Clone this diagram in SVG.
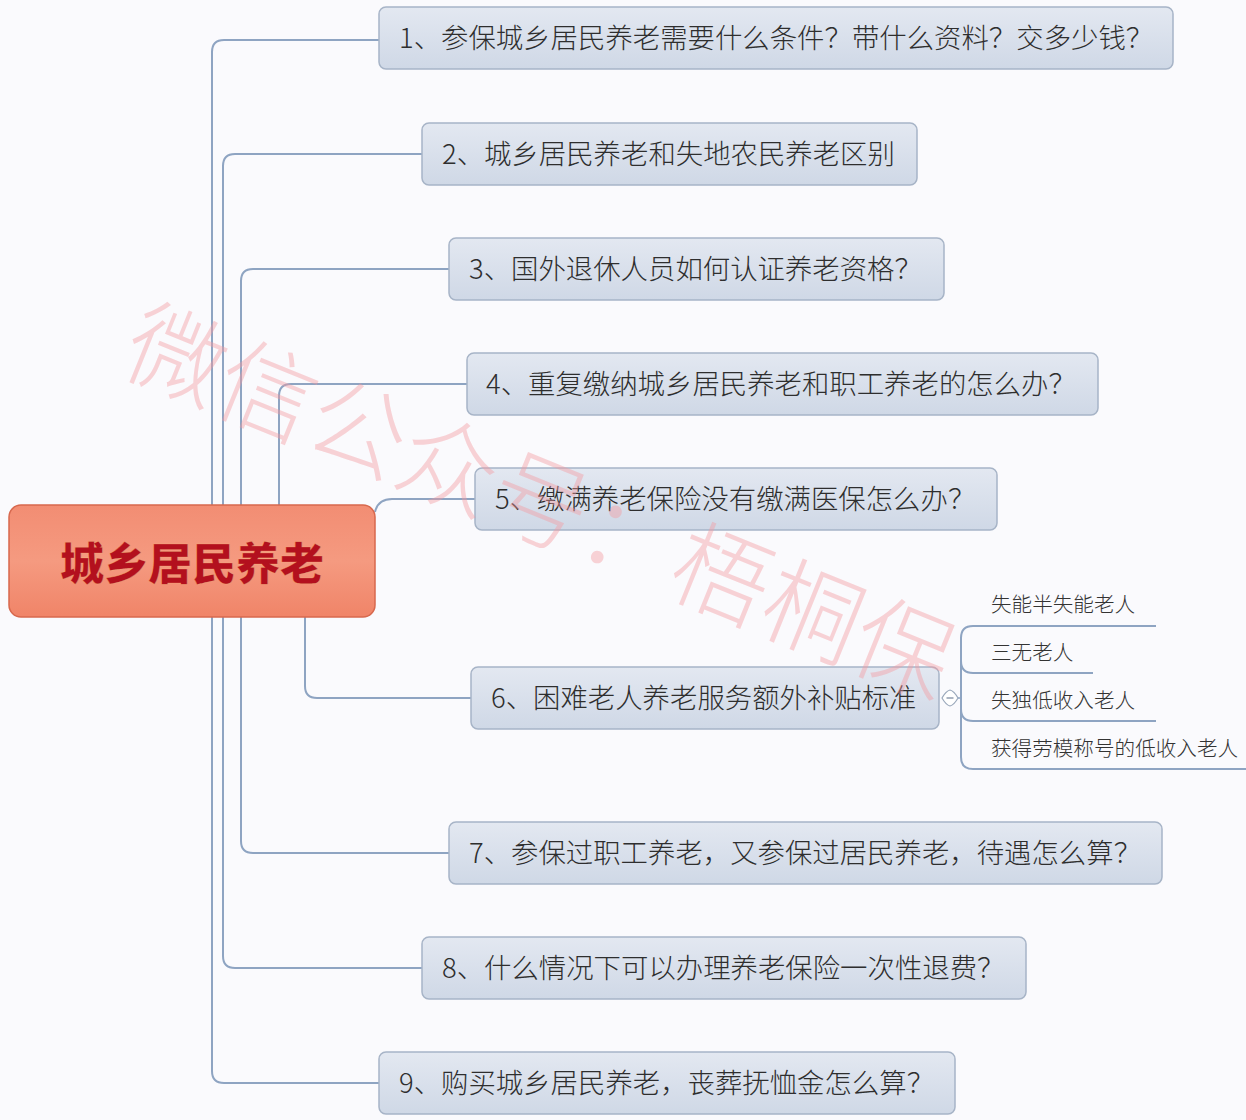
<svg xmlns="http://www.w3.org/2000/svg" width="1246" height="1120" viewBox="0 0 1246 1120">
<defs>
<linearGradient id="ng" x1="0" y1="0" x2="0" y2="1">
<stop offset="0" stop-color="#e3e8f1"/>
<stop offset="1" stop-color="#cfd8e6"/>
</linearGradient>
<linearGradient id="cg" x1="0" y1="0" x2="0" y2="1">
<stop offset="0" stop-color="#f28d73"/>
<stop offset="0.5" stop-color="#f59a80"/>
<stop offset="1" stop-color="#f08468"/>
</linearGradient>
<style>
.node rect{fill:url(#ng);stroke:#a7b4c7;stroke-width:1.5}
.node text{font-family:"Noto Sans CJK SC","Noto Sans",sans-serif;font-size:27.4px;fill:#2e2e2e;font-weight:300}
.conn path{fill:none;stroke:#8ea4c2;stroke-width:2}
.sub text{font-family:"Noto Sans CJK SC","Noto Sans",sans-serif;font-size:20.6px;fill:#333;font-weight:300}
.wm{font-family:"Noto Sans CJK SC",sans-serif;font-size:98px;fill:#f59aa0;opacity:0.42;font-weight:300}
</style>
</defs>
<rect width="1246" height="1120" fill="#fafafd"/>
<g id="connectors" class="conn">
<path d="M379 40 H224 Q212 40 212 52 V505"/>
<path d="M212 617 V1071 Q212 1083 224 1083 H379"/>
<path d="M422 154 H235 Q223 154 223 166 V505"/>
<path d="M223 617 V956 Q223 968 235 968 H422"/>
<path d="M449 269 H253 Q241 269 241 281 V505"/>
<path d="M241 617 V841 Q241 853 253 853 H449"/>
<path d="M467 384 H291 Q279 384 279 396 V505"/>
<path d="M375 512 Q378 499 392 499 H475"/>
<path d="M305 617 V686 Q305 698 317 698 H471"/>
<path d="M1156 626 H973 Q961 626 961 638 V757 Q961 769 973 769 H1246"/>
<path d="M961 661 Q961 673 973 673 H1093"/>
<path d="M961 709 Q961 721 973 721 H1156"/>
</g>
<g id="collapse">
<path d="M942 698 Q946 691 950 690 Q954 691 958 698 Q954 705 950 706 Q946 705 942 698 Z" fill="#fff" stroke="#9aa8bb" stroke-width="1.2"/>
<path d="M946.5 698 H953.5" stroke="#7f8da3" stroke-width="1.3"/>
<path d="M958 698 H961" stroke="#8ea4c2" stroke-width="1.5"/>
</g>
<g id="root">
<rect x="9" y="505" width="366" height="112" rx="12" fill="url(#cg)" stroke="#d7684d" stroke-width="1.5"/>
<text x="192" y="580" text-anchor="middle" font-family="'Noto Sans CJK SC','Noto Sans',sans-serif" font-size="44" font-weight="900" fill="#b3101e" stroke="#f3c07a" stroke-width="0.6" stroke-opacity="0.5">城乡居民养老</text>
</g>
<g id="n1" class="node"><rect x="379" y="7" width="794" height="62" rx="7"/><text x="399" y="48">1、参保城乡居民养老需要什么条件？带什么资料？交多少钱？</text></g>
<g id="n2" class="node"><rect x="422" y="123" width="495" height="62" rx="7"/><text x="442" y="164">2、城乡居民养老和失地农民养老区别</text></g>
<g id="n3" class="node"><rect x="449" y="238" width="495" height="62" rx="7"/><text x="469" y="279">3、国外退休人员如何认证养老资格？</text></g>
<g id="n4" class="node"><rect x="467" y="353" width="631" height="62" rx="7"/><text x="486" y="394">4、重复缴纳城乡居民养老和职工养老的怎么办？</text></g>
<g id="n5" class="node"><rect x="475" y="468" width="522" height="62" rx="7"/><text x="495" y="509">5、缴满养老保险没有缴满医保怎么办？</text></g>
<g id="n6" class="node"><rect x="471" y="667" width="468" height="62" rx="7"/><text x="491" y="708">6、困难老人养老服务额外补贴标准</text></g>
<g id="n7" class="node"><rect x="449" y="822" width="713" height="62" rx="7"/><text x="469" y="863">7、参保过职工养老，又参保过居民养老，待遇怎么算？</text></g>
<g id="n8" class="node"><rect x="422" y="937" width="604" height="62" rx="7"/><text x="442" y="978">8、什么情况下可以办理养老保险一次性退费？</text></g>
<g id="n9" class="node"><rect x="379" y="1052" width="576" height="62" rx="7"/><text x="399" y="1093">9、购买城乡居民养老，丧葬抚恤金怎么算？</text></g>
<g id="s1" class="sub"><text x="991" y="612">失能半失能老人</text></g>
<g id="s2" class="sub"><text x="991" y="660">三无老人</text></g>
<g id="s3" class="sub"><text x="991" y="708">失独低收入老人</text></g>
<g id="s4" class="sub"><text x="991" y="756">获得劳模称号的低收入老人</text></g>
<text class="wm" transform="translate(118,370) rotate(22)">微信公众号：梧桐保</text>
</svg>
